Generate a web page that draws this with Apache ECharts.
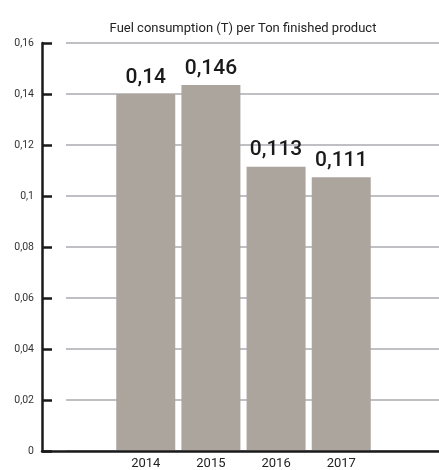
<!DOCTYPE html>
<html><head><meta charset="utf-8">
<script src="https://cdn.jsdelivr.net/npm/echarts@6/dist/echarts.min.js"></script>
<style>html,body{margin:0;padding:0;background:#fff}#c{width:439px;height:470px}</style>
</head><body><div id="c"></div>
<script>
const titleText = 'Fuel consumption (T) per Ton finished product';
const categories = ['', '2014', '2015', '2016', '2017', ''];
const barValues = [null, 0.14, 0.1435, 0.1114, 0.1072, null];
const valueLabels = ['', '0,14', '0,146', '0,113', '0,111', ''];
const yMin = 0, yMax = 0.16, yStep = 0.02;

const chart = echarts.init(document.getElementById('c'));
const fmt = v => String(+v.toFixed(2)).replace('.', ',');
const gTop = 43, gBottom = 19;
chart.setOption({
  animation: false,
  title: { text: titleText, left: 238, textAlign: 'center', top: 17,
    textStyle: { fontFamily: 'Roboto', fontSize: 13, fontWeight: 'normal', color: '#222' } },
  grid: [
    { left: 48, width: 396, top: gTop, bottom: gBottom },
    { left: 42, right: 0, top: gTop, bottom: gBottom },
    { left: 66, right: 0, top: gTop, bottom: gBottom }
  ],
  xAxis: [
    { gridIndex: 0, type: 'category', data: categories,
      axisLine: { show: false }, axisTick: { show: false },
      axisLabel: { margin: 7, fontFamily: 'Roboto', fontSize: 13, color: '#222' } },
    { gridIndex: 1, type: 'category', data: categories,
      axisLine: { show: true, lineStyle: { color: '#1a1a1a', width: 2.5 } },
      axisTick: { show: false }, axisLabel: { show: false } },
    { gridIndex: 2, type: 'category', data: categories, show: false }
  ],
  yAxis: [
    { gridIndex: 0, type: 'value', min: yMin, max: yMax, interval: yStep, show: false },
    { gridIndex: 1, type: 'value', min: yMin, max: yMax, interval: yStep,
      axisLine: { show: true, lineStyle: { color: '#1a1a1a', width: 2.5 } },
      axisTick: { show: true, inside: true, length: 10, lineStyle: { color: '#1a1a1a', width: 2.5 } },
      axisLabel: { margin: 8, fontFamily: 'Roboto', fontSize: 10.5, color: '#333', formatter: fmt },
      splitLine: { show: false } },
    { gridIndex: 2, type: 'value', min: yMin, max: yMax, interval: yStep,
      axisLine: { show: false }, axisTick: { show: false }, axisLabel: { show: false },
      splitLine: { show: true, lineStyle: { color: '#c0bfc4', width: 2 } } }
  ],
  series: [{
    type: 'bar', xAxisIndex: 0, yAxisIndex: 0, data: barValues,
    barWidth: 59,
    itemStyle: { color: '#aba59e' },
    label: { show: true, position: 'top', distance: 6,
      fontFamily: 'Roboto', fontSize: 21, fontWeight: 500, color: '#1a1a1a',
      formatter: p => valueLabels[p.dataIndex] }
  }]
});
</script></body></html>
